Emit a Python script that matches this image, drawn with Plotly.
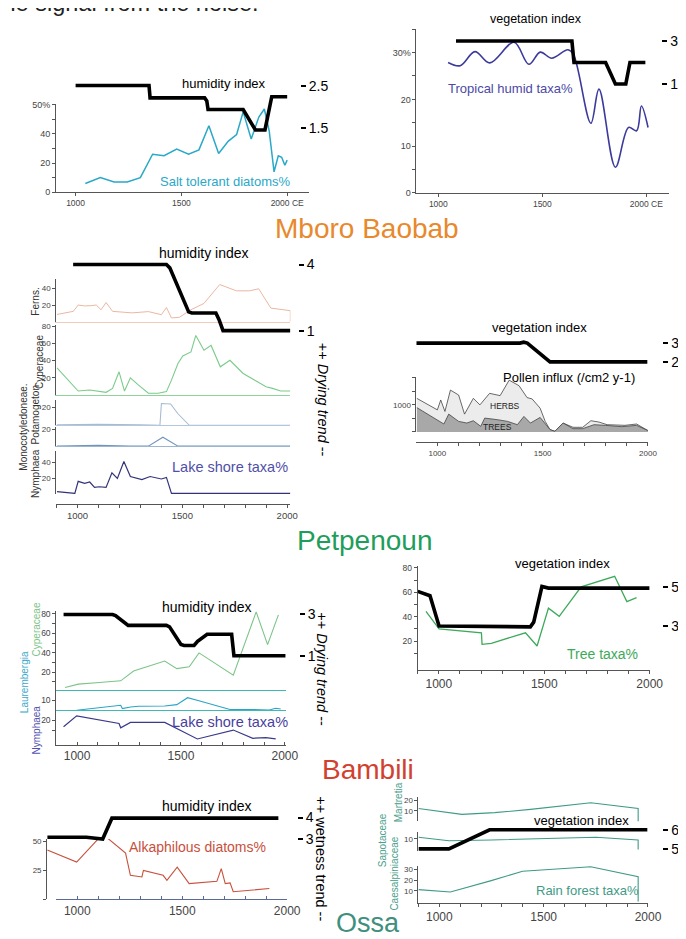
import plotly.graph_objects as go

# ======================= DATA =======================
# --- Mboro Baobab ---
salt_years = [1046, 1117, 1182, 1244, 1306, 1364, 1418, 1478, 1534, 1583, 1630, 1676, 1722, 1761,
              1792, 1830, 1866, 1892, 1915, 1938, 1958, 1974, 1989, 2000]
salt_pct = [6, 10, 7, 7, 10, 26, 25, 29.5, 26, 29, 45.5, 26.5, 35, 39.5,
            55, 36.5, 51.5, 57, 42, 14, 25, 24, 18.5, 22]
mboro_hum_years = [1000, 1347, 1352, 1610, 1620, 1626, 1792, 1850, 1895, 1905, 1927, 2000]
mboro_hum = [2.52, 2.52, 2.22, 2.22, 2.15, 1.94, 1.94, 1.45, 1.45, 1.7, 2.25, 2.25]
trop_years = [1047, 1105, 1176, 1247, 1364, 1435, 1490, 1545, 1623, 1650, 1733, 1772, 1851,
              1914, 1953, 1976, 2008]
trop_pct = [27.9, 27.2, 30.2, 27.8, 32.2, 27.5, 30.1, 28.8, 30.6, 29.5, 14.9, 22.2, 5.5,
            14, 13.3, 18.6, 14]
mboro_veg_years = [1085, 1642, 1652, 1804, 1851, 1901, 1921, 1995]
mboro_veg = [3, 3, 2, 2, 1, 1, 2, 2]

# --- Petpenoun ---
ferns_years = [902, 980, 1003, 1034, 1065, 1089, 1112, 1136, 1167, 1260, 1338, 1400, 1424, 1448,
               1486, 1541, 1603, 1678, 1758, 1821, 1864, 1922, 2015, 2015]
ferns_pct = [8.7, 12.4, 20, 18.9, 19.2, 20, 14.3, 23, 12.4, 10.6, 12.1, 8.4, 17, 4.5,
             5.3, 14.3, 21.9, 44.5, 37, 37, 39.5, 16.3, 13.2, 0]
pcyper_years = [902, 1003, 1058, 1104, 1136, 1167, 1198, 1224, 1252, 1291, 1338, 1385, 1424, 1448,
                1479, 1502, 1541, 1564, 1603, 1637, 1681, 1727, 1790, 1852, 1899, 1930, 1969, 2015]
pcyper_pct = [31.6, 4.6, 5.8, 4.6, 3.1, 7.7, 27, 4.6, 20, 11.5, 2, 2, 3.9, 17.3,
              36.6, 45.5, 50.1, 69.3, 52, 57.7, 32.8, 40.4, 25, 16.2, 9.7, 7.7, 4.6, 4.6]
potam_years = [902, 1100, 1300, 1393, 1400, 1444, 1478, 1533, 2015]
potam_pct = [0.5, 1, 0.5, 0, 24, 23.5, 13, 0, 0]
monocot_years = [902, 1100, 1250, 1338, 1407, 1479, 2015]
monocot_pct = [0, 1, 0, 0, 10.8, 0, 0]
pnymph_years = [902, 951, 987, 1003, 1034, 1058, 1081, 1104, 1136, 1164, 1190, 1221, 1252, 1307,
                1346, 1400, 1424, 1448, 2015]
pnymph_pct = [3.1, 1.9, 0.8, 16, 13.4, 15.2, 8.4, 9.2, 8.4, 26.7, 19.8, 41.1, 22.1, 18.3,
              22.1, 19, 21, 0.8, 0.8]
pet_hum_years = [979, 1424, 1440, 1530, 1545, 1660, 1675, 1694, 2015]
pet_hum = [4, 4, 3.85, 1.85, 1.8, 1.8, 1.5, 1, 1]
herbs_years = [902, 946, 1000, 1016, 1036, 1062, 1101, 1129, 1171, 1202, 1248, 1298, 1341, 1388,
               1426, 1450, 1488, 1512, 1535, 1558, 1597, 1644, 1690, 1729, 1767, 1806, 1845,
               1891, 1946, 2000]
pollen_total = [1244, 1061, 816, 1182, 758, 1548, 1365, 659, 1244, 1000, 1427, 1343, 1914, 1708,
                1270, 1220, 878, 390, 85, 24, 329, 171, 171, 415, 366, 268, 268, 244, 293, 49]
trees_years = [902, 969, 1031, 1054, 1101, 1140, 1171, 1206, 1225, 1287, 1333, 1380, 1411, 1442,
               1488, 1535, 1558, 1597, 1644, 1690, 1744, 1798, 1876, 1946, 2000]
pollen_trees = [903, 574, 293, 659, 390, 329, 415, 207, 512, 451, 390, 268, 574, 329,
                537, 85, 24, 329, 122, 122, 268, 244, 195, 244, 49]
pet_veg_years = [896, 1392, 1410, 1427, 1535, 1997]
pet_veg = [3, 3, 3.05, 3, 2, 2]

# --- Bambili ---
bcyper_years = [942, 1006, 1107, 1210, 1272, 1422, 1480, 1540, 1587, 1752, 1862, 1917, 1969]
bcyper_pct = [4.4, 7.8, 9.4, 11.2, 21.3, 31.5, 23.7, 25.7, 39.9, 17, 82, 48.4, 79]
laur_years = [998, 1045, 1107, 1210, 1218, 1257, 1296, 1422, 1480, 1532, 1595, 1736, 1846,
              1925, 1956, 1980]
laur_pct = [0, 1, 2.3, 5, 1.7, 3.3, 4, 4.3, 5.7, 12.7, 9, 0.7, 0.7, 0.3, 2, 1.3]
bnymph_years = [935, 998, 1202, 1210, 1257, 1422, 1579, 1752, 1846, 1909, 1956]
bnymph_pct = [13.3, 24.3, 16.7, 12.3, 17.7, 17.7, 1, 10, 1.7, 2.3, 1]
bam_hum_years = [935, 1171, 1185, 1246, 1430, 1445, 1500, 1515, 1563, 1580, 1626, 1744, 1755, 2003]
bam_hum = [3, 3, 2.95, 2.47, 2.47, 2.4, 1.55, 1.5, 1.5, 1.7, 2.04, 2.04, 1.0, 1.0]
tree_years = [939, 1001, 1202, 1205, 1249, 1411, 1466, 1520, 1571, 1675, 1834, 1892, 1938]
tree_pct = [44.4, 30.1, 26.9, 17.5, 18.3, 26.9, 16.1, 47, 40.3, 64.5, 73.1, 52.4, 55.6]
bam_veg_years = [900, 958, 1001, 1396, 1434, 1450, 1489, 1520, 2000]
bam_veg = [4.78, 4.56, 3.0, 3.0, 2.96, 3.2, 5.03, 4.95, 4.95]

# --- Ossa ---
alk_years = [857, 997, 1121, 1230, 1253, 1308, 1315, 1409, 1427, 1476, 1533, 1665, 1686, 1705,
             1728, 1743, 1915]
alk_pct = [42.8, 32.2, 56.6, 40, 20.7, 19.3, 25, 20.7, 16.4, 27.9, 13.5, 15.5, 26.5, 13.5,
           14.1, 6.4, 9.2]
ossa_hum_years = [857, 1043, 1121, 1165, 1958]
ossa_hum = [3.08, 3.08, 3.0, 3.97, 3.97]
mart_years = [900, 1108, 1265, 1437, 1726, 1953, 1953]
mart_pct = [12.4, 6.8, 8.4, 11.5, 17.8, 12.4, 0]
sapo_years = [900, 1046, 1249, 1751, 1953, 1953]
sapo_pct = [11.6, 8.4, 9.1, 11.6, 9.1, 0]
caes_years = [900, 1053, 1249, 1399, 1726, 1953, 1953]
caes_pct = [11.1, 8.9, 19.6, 28.4, 32.7, 23.4, 0]
ossa_veg_years = [900, 1046, 1241, 1997]
ossa_veg = [5, 5, 6, 6]

century_ticks = list(range(900, 2001, 100))
century_text = [str(v) if v in (1000, 1500, 2000) else "" for v in century_ticks]

# ======================= FIGURE =======================
W, H = 686, 939
FONT = "Liberation Sans, Arial, Helvetica, sans-serif"
fig = go.Figure()
_n = [0]
BASE = dict(showgrid=False, zeroline=False, showline=False, ticks="", showticklabels=False,
            fixedrange=True)


def span(p0, p1, cal):
    pa, va, pb, vb = cal
    k = (vb - va) / (pb - pa)
    return [va + (p0 - pa) * k, va + (p1 - pa) * k]


def axes(xpx, xcal, ypx, ycal, xo=None, yo=None):
    _n[0] += 1
    s = "" if _n[0] == 1 else str(_n[0])
    xa = dict(BASE, domain=[xpx[0] / W, xpx[1] / W], range=span(xpx[0], xpx[1], xcal), anchor="y" + s)
    ya = dict(BASE, domain=[1 - ypx[1] / H, 1 - ypx[0] / H], range=span(ypx[1], ypx[0], ycal),
              anchor="x" + s)
    if xo:
        xa.update(xo)
    if yo:
        ya.update(yo)
    fig.update_layout(**{"xaxis" + s: xa, "yaxis" + s: ya})
    return "x" + s, "y" + s


def line(ax, xs, ys, color, width, shape="linear", fill=None, fillcolor=None):
    fig.add_trace(go.Scatter(x=xs, y=ys, xaxis=ax[0], yaxis=ax[1], mode="lines",
                             line=dict(color=color, width=width, shape=shape, smoothing=1.0),
                             fill=fill, fillcolor=fillcolor, hoverinfo="skip", showlegend=False))


def empty(ax):
    fig.add_trace(go.Scatter(x=[None], y=[None], xaxis=ax[0], yaxis=ax[1], mode="lines",
                             hoverinfo="skip", showlegend=False))


def yax(vals, text, size=8.5, lc="#555", tc="#444", ticks="outside"):
    return dict(showline=True, linecolor=lc, linewidth=1, ticks=ticks, ticklen=3, tickcolor=lc,
                tickvals=vals, ticktext=text, showticklabels=True,
                tickfont=dict(size=size, color=tc, family=FONT))


def xax(vals, text, size=9, lc="#555", tc="#444", ticks="outside", **kw):
    d = dict(showline=True, linecolor=lc, linewidth=1, ticks=ticks, ticklen=3, tickcolor=lc,
             tickvals=vals, ticktext=text, showticklabels=True,
             tickfont=dict(size=size, color=tc, family=FONT))
    d.update(kw)
    return d


def base_line(color):
    return dict(showline=True, linecolor=color, linewidth=1)


def idx_axis(xp, vals, size=14):
    return dict(side="right", anchor="free", position=xp / W, ticks="outside", ticklen=5,
                tickwidth=1.5, tickcolor="black", tickvals=vals, ticktext=[str(v) for v in vals],
                showticklabels=True, tickfont=dict(size=size, color="black", family=FONT))


ann = []


def label(text, xp, yp, size, color="black", angle=0, xanchor="center", yanchor="middle"):
    ann.append(dict(text=text, x=xp / W, y=1 - yp / H, xref="paper", yref="paper", showarrow=False,
                    font=dict(size=size, color=color, family=FONT), textangle=angle,
                    xanchor=xanchor, yanchor=yanchor))


INDEX_W = 3.6

# ---------- Mboro Baobab (left) ----------
XA = (69, 1000, 285, 2000)
a1 = axes((49, 307), XA, (93, 182), (182, 0, 93.5, 60),
          xo=xax([1000, 1500, 2000], ["1000", "1500", "2000 CE"], size=8.5),
          yo=yax([0, 10, 20, 30, 40, 50, 60], ["0", "", "20", "", "40", "", "50%"], size=9))
line(a1, salt_years, salt_pct, "#2aa8c8", 1.5)
a2 = axes((49, 307), XA, (60, 130), (75, 2.5, 117, 1.5), yo=idx_axis(298, [1.5, 2.5]))
line(a2, mboro_hum_years, mboro_hum, "black", INDEX_W)
label("humidity index", 220, 72, 13)
label("Salt tolerant diatoms%", 222, 171, 13, "#2aa8c8")

# ---------- Mboro Baobab (right) ----------
XB = (439.3, 1000, 651.7, 2000)
b1 = axes((417, 675), XB, (17, 182.7), (182.7, 0, 41, 30),
          xo=xax([1000, 1500, 2000], ["1000", "1500", "2000 CE"], size=8.5),
          yo=yax(list(range(0, 36, 5)), ["0", "", "10", "", "20", "", "30%", ""], size=9))
line(b1, trop_years, trop_pct, "#3c3a9c", 1.6, shape="spline")
b2 = axes((417, 675), XB, (15, 90), (29.3, 3, 72.7, 1), yo=idx_axis(667, [1, 3]))
line(b2, mboro_veg_years, mboro_veg, "black", INDEX_W)
label("vegetation index", 539, 7, 12.5)
label("Tropical humid taxa%", 513, 77, 13, "#4b49a6")
label("Mboro Baobab", 366, 219, 28, "#e8892c")

# ---------- Petpenoun (left) ----------
XC = (71, 1000, 285, 2000)
XCD = (49.3, 288.3)
c1 = axes(XCD, XC, (270, 312.7), (312.7, 0, 279, 40), xo=base_line("#efcdb8"),
          yo=yax([20, 40], ["20", "40"], size=8))
line(c1, ferns_years, ferns_pct, "#eab7a0", 1)
c2 = axes(XCD, XC, (316, 386.7), (386.7, 0, 317.3, 80), xo=base_line("#8fd39a"),
          yo=yax([20, 40, 60, 80], ["20", "40", "60", "80"], size=8))
line(c2, pcyper_years, pcyper_pct, "#7ccb8a", 1.1)
c3 = axes(XCD, XC, (391.7, 417.3), (417.3, 0, 399, 20), xo=base_line("#b3c8dc"),
          yo=yax([20], ["20"], size=8))
line(c3, potam_years, potam_pct, "#a6bcd2", 1.1)
c4 = axes(XCD, XC, (419, 438.3), (438.3, 0, 421.7, 20), xo=base_line("#9cb6d0"),
          yo=yax([20], ["20"], size=8))
line(c4, monocot_years, monocot_pct, "#7094bb", 1.1)
c5 = axes(XCD, XC, (443.3, 486.7), (486.7, 0, 470.7, 20),
          xo=xax(century_ticks, century_text, size=9.5, anchor="free", position=1 - 496.7 / H),
          yo=yax([20, 40], ["20", "40"], size=8))
line(c5, pnymph_years, pnymph_pct, "#33337a", 1.2)
c6 = axes(XCD, XC, (240, 330), (255, 4, 321.7, 1), yo=idx_axis(296, [1, 4]))
line(c6, pet_hum_years, pet_hum, "black", INDEX_W)
label("humidity index", 200, 243, 14)
label("Lake shore taxa%", 227, 459, 14.5, "#5050a8")
label("++ <i>Drying trend</i> --", 321, 392, 14.5, angle=90)
label("Ferns.", 28, 292, 10, "#333", angle=-90)
label("Cyperaceae", 32, 353, 10, "#333", angle=-90)
label("Potamogeton", 28, 406, 10, "#333", angle=-90)
label("Monocotyledoneae.", 16, 419, 10, "#333", angle=-90)
label("Nymphaea", 28, 466, 10, "#333", angle=-90)

# ---------- Petpenoun (right) ----------
XD = (438.3, 1000, 653.3, 2000)
d1 = axes((417, 653.3), XD, (368.3, 424), (424, 0, 396.7, 1000),
          xo=xax(century_ticks, century_text, size=8, anchor="free", position=1 - 434.3 / H),
          yo=yax([0, 500, 1000, 1500, 2000], ["", "", "1000", "", ""], size=8))
line(d1, herbs_years, pollen_total, "#444", 0.8, fill="tozeroy", fillcolor="#ececec")
line(d1, trees_years, pollen_trees, "#444", 0.8, fill="tozeroy", fillcolor="#a8a8a8")
d2 = axes((417, 653.3), XD, (320, 362), (334.3, 3, 353.3, 2), yo=idx_axis(668, [2, 3]))
line(d2, pet_veg_years, pet_veg, "black", INDEX_W)
label("vegetation index", 543, 319, 13)
label("Pollen influx (/cm2 y-1)", 573, 369, 13)
label("HERBS", 507, 398, 8.5, "#222")
label("TREES", 500, 419.5, 8.5, "#222")
label("Petpenoun", 364, 534, 28, "#1f9e5b")

# ---------- Bambili (left) ----------
XE = (49.3, 900, 282.6, 2000)
XED = (49.3, 284)
e1 = axes(XED, XE, (605, 685), (686.3, 0, 607.7, 80), xo=base_line("#3fb9b5"),
          yo=yax(list(range(10, 81, 10)), ["", "20", "", "40", "", "60", "", "80"], size=8.5))
line(e1, bcyper_years, bcyper_pct, "#7cc488", 1.1)
e2 = axes(XED, XE, (685, 705), (705, 0, 695, 10), xo=base_line("#3fb9b5"),
          yo=yax([10], ["10"], size=8.5))
line(e2, laur_years, laur_pct, "#2aa5c5", 1.1)
e3 = axes(XED, XE, (705, 740), (735, 0, 715, 20),
          xo=xax(century_ticks, century_text, size=12, ticks="inside"),
          yo=yax([10, 20], ["", "20"], size=8.5))
line(e3, bnymph_years, bnymph_pct, "#3a3a8a", 1.2)
e4 = axes(XED, XE, (595, 660), (608.3, 3, 650, 1), yo=idx_axis(297, [1, 3]))
line(e4, bam_hum_years, bam_hum, "black", INDEX_W)
label("humidity index", 203, 601, 14)
label("Lake shore taxa%", 227, 717, 14.5, "#4a3fa0")
label("++ <i>Drying trend</i> --", 321, 664, 14.5, angle=90)
label("Cyperaceae", 29, 623, 10, "#7cc488", angle=-90)
label("Laurembergia", 17, 677, 10, "#39a9c9", angle=-90)
label("Nymphaea", 29, 725, 10, "#5050b0", angle=-90)

# ---------- Bambili (right) ----------
XF = (418.3, 900, 655, 2000)
f1 = axes((418.3, 655), XF, (559, 664), (660, 0, 635.3, 20),
          xo=xax(century_ticks, century_text, size=12),
          yo=yax(list(range(10, 81, 10)), ["", "20", "", "40", "", "60", "", "80"], size=8.5))
line(f1, tree_years, tree_pct, "#3daa5a", 1.3)
f2 = axes((418.3, 655), XF, (570, 630), (580.7, 5, 620, 3), yo=idx_axis(668, [3, 5]))
line(f2, bam_veg_years, bam_veg, "black", INDEX_W)
label("vegetation index", 566, 557, 13)
label("Tree taxa%", 607, 648, 14, "#3daa5a")
label("Bambili", 368, 765, 28, "#d2412f")

# ---------- Ossa (left) ----------
XG = (49.3, 900, 285, 2000)
g1 = axes((40, 285), XG, (835, 896), (895.7, 0, 837.7, 50),
          yo=yax([0, 25, 50], ["", "25", "50"], size=8))
line(g1, alk_years, alk_pct, "#c8503c", 1.1)
g2 = axes((40, 285), XG, (800, 850), (813.3, 4, 835, 3), yo=idx_axis(295, [3, 4]))
line(g2, ossa_hum_years, ossa_hum, "black", INDEX_W)
g3 = axes((49.3, 285), XG, (880, 896), (896, 0, 880, 1),
          xo=xax(century_ticks, century_text, size=12, lc="#5a6a9a", ticks="inside"))
empty(g3)
label("humidity index", 203, 802, 14)
label("Alkaphilous diatoms%", 193, 843, 14, "#c8503c")
label("++ wetness trend --", 320, 855, 14.5, angle=90)

# ---------- Ossa (right) ----------
XH = (419, 900, 653.3, 2000)
XHD = (419, 653.3)
TEAL = "#3f9a86"
h1 = axes(XHD, XH, (793, 817.3), (817.3, 0, 806.7, 10), yo=yax([10, 20], ["10", "20"], size=8))
line(h1, mart_years, mart_pct, TEAL, 1.1)
h2 = axes(XHD, XH, (828, 846.7), (845.7, 0, 835, 10), yo=yax([10], ["10"], size=8))
line(h2, sapo_years, sapo_pct, TEAL, 1.1)
h3 = axes(XHD, XH, (862, 899.3), (898, 0, 887.3, 10),
          xo=xax(century_ticks, century_text, size=12),
          yo=yax([10, 20, 30], ["10", "20", "30"], size=8))
line(h3, caes_years, caes_pct, TEAL, 1.1)
h4 = axes(XHD, XH, (815, 855), (825.7, 6, 845, 5), yo=idx_axis(668, [5, 6]))
line(h4, ossa_veg_years, ossa_veg, "black", INDEX_W)
label("vegetation index", 585, 816, 13)
label("Rain forest taxa%", 592, 887, 13, TEAL)
label("Martretia", 398, 798, 10, "#4aa08a", angle=-90)
label("Sapotaceae", 383, 836, 10, "#4aa08a", angle=-90)
label("Caesalpiniaceae", 395, 870, 10, "#4aa08a", angle=-90)
label("Ossa", 367, 920, 27, "#3f8f7f")

# cropped caption at the very top of the page
label("the signal from the noise.", 258, 6, 23.5, "#222", xanchor="right", yanchor="bottom")

fig.update_layout(width=W, height=H, margin=dict(l=0, r=0, t=0, b=0), autosize=False,
                  paper_bgcolor="white", plot_bgcolor="rgba(0,0,0,0)", showlegend=False,
                  font=dict(family=FONT, color="#222"), annotations=ann)
fig.write_html("out.html", config={"displayModeBar": False})
